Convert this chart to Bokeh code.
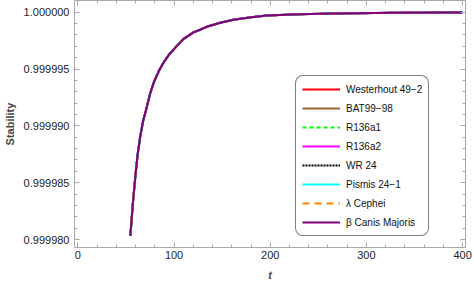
from bokeh.plotting import figure
from bokeh.models import (Range1d, FixedTicker, PrintfTickFormatter, LinearAxis,
                          Legend, LegendItem, CustomJSTickFormatter)
from bokeh.embed import file_html
from bokeh.resources import INLINE

# ---- data ----
t_vals = [54.6, 57, 59.7, 62, 64.9, 68, 71.9, 75, 78.8, 84, 89.1, 95, 103, 110,
          120.2, 127, 135, 147, 161.7, 180, 196, 230, 265, 330, 400]
stability = [0.99998035, 0.99998300, 0.99998550, 0.99998740, 0.99998910,
             0.99999050, 0.99999172, 0.99999280, 0.99999380, 0.99999480,
             0.99999557, 0.99999630, 0.99999704, 0.99999765, 0.99999823,
             0.99999846, 0.99999875, 0.99999905, 0.99999934, 0.99999955,
             0.99999970, 0.99999982, 0.99999988, 0.99999995, 0.99999998]
series_names = ["Westerhout 49\u22122", "BAT99\u221298", "R136a1", "R136a2",
                "WR 24", "Pismis 24\u22121", "\u03bb Cephei", "\u03b2 Canis Majoris"]
series_colors = ["#ff0000", "#996633", "#00ff00", "#ff00ff",
                 "#000000", "#00ffff", "#ff8000", "#800080"]
series_dash = ["solid", "solid", "4 3", "solid", "2 1", "solid", "7 5", "solid"]

x_major = [0, 100, 200, 300, 400]
y_major = [0.999980, 0.999985, 0.999990, 0.999995, 1.000000]
x_title = "t"
y_title = "Stability"

FONT = "Liberation Sans"
AXC = "#a8a8a8"

p = figure(width=474, height=285, output_backend="svg", toolbar_location=None,
           x_range=Range1d(-3.5, 403), y_range=Range1d(0.9999793, 1.00000103),
           min_border_left=74, min_border_right=9, min_border_top=0,
           min_border_bottom=38)
p.outline_line_color = None
p.grid.visible = False
p.background_fill_color = "white"
p.border_fill_color = "white"

x_minor = list(range(-20, 420, 20))
y_minor = [0.99997 + i * 1e-6 for i in range(0, 40)]

def style_axis(ax, ticks, minor, show_labels):
    ax.ticker = FixedTicker(ticks=ticks, minor_ticks=minor)
    ax.axis_line_color = AXC
    ax.major_tick_line_color = AXC
    ax.minor_tick_line_color = AXC
    ax.major_tick_in = 5
    ax.major_tick_out = 0
    ax.minor_tick_in = 3
    ax.minor_tick_out = 0
    ax.major_label_text_font = FONT
    ax.major_label_text_font_size = "11px"
    ax.major_label_text_color = "#222222"
    if not show_labels:
        ax.formatter = CustomJSTickFormatter(code="return '';")
        ax.major_label_standoff = 0

xa = p.xaxis[0]
style_axis(xa, x_major, x_minor, True)
xa.major_label_standoff = 3
xa.axis_label = x_title
xa.axis_label_text_font = FONT
xa.axis_label_text_font_style = "bold italic"
xa.axis_label_text_font_size = "11px"
xa.axis_label_standoff = 7

ya = p.yaxis[0]
style_axis(ya, y_major, y_minor, True)
ya.formatter = PrintfTickFormatter(format="%.6f")
ya.major_label_standoff = 5
ya.axis_label = y_title
ya.axis_label_text_font = FONT
ya.axis_label_text_font_style = "bold"
ya.axis_label_text_font_size = "11px"
ya.axis_label_standoff = 5

top = LinearAxis()
style_axis(top, x_major, x_minor, False)
p.add_layout(top, "above")
right = LinearAxis()
style_axis(right, y_major, y_minor, False)
p.add_layout(right, "right")

items = []
for name, col, dash in zip(series_names, series_colors, series_dash):
    r = p.line(t_vals, stability, line_color=col, line_width=2, line_dash=dash)
    items.append(LegendItem(label=name, renderers=[r]))

legend = Legend(items=items, location=(221, 11))
legend.label_text_font = FONT
legend.label_text_font_size = "10px"
legend.label_text_color = "#111111"
legend.glyph_width = 38
legend.glyph_height = 14
legend.label_height = 14
legend.spacing = 5
legend.padding = 6
legend.margin = 0
legend.label_standoff = 6
legend.border_line_color = "black"
legend.border_line_width = 1.3
legend.border_radius = 8
legend.background_fill_color = "white"
legend.background_fill_alpha = 1
p.add_layout(legend, "center")

open("out.html", "w").write(file_html(p, INLINE))
